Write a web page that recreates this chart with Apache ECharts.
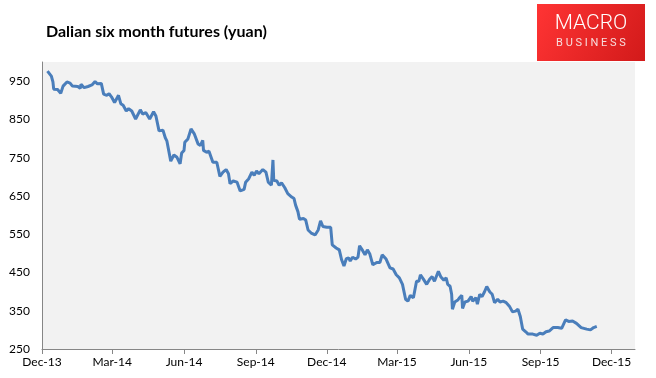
<!DOCTYPE html>
<html>
<head>
<meta charset="utf-8">
<script src="https://cdn.jsdelivr.net/npm/echarts@6/dist/echarts.min.js"></script>
<style>
  html, body { margin: 0; padding: 0; background: #fff; }
  #chart { width: 656px; height: 378px; }
</style>
</head>
<body>
<div id="chart"></div>
<script>
var dates = [
  '2013-12-08','2013-12-10','2013-12-13','2013-12-15','2013-12-16','2013-12-21','2013-12-25','2013-12-28',
  '2014-01-02','2014-01-06','2014-01-09','2014-01-16','2014-01-19','2014-01-20','2014-01-24','2014-01-29',
  '2014-02-03','2014-02-07','2014-02-10','2014-02-15','2014-02-18','2014-02-22','2014-02-25','2014-02-28',
  '2014-03-02','2014-03-04','2014-03-07','2014-03-09','2014-03-12','2014-03-15','2014-03-19','2014-03-22','2014-03-26','2014-03-31',
  '2014-04-06','2014-04-09','2014-04-13','2014-04-18','2014-04-23','2014-04-26','2014-04-30',
  '2014-05-05','2014-05-08','2014-05-10','2014-05-15','2014-05-19','2014-05-23','2014-05-27','2014-05-29',
  '2014-06-01','2014-06-02','2014-06-06','2014-06-10','2014-06-14','2014-06-19','2014-06-22','2014-06-25','2014-06-26','2014-06-30',
  '2014-07-03','2014-07-08','2014-07-13','2014-07-17','2014-07-21','2014-07-25','2014-07-28','2014-07-30',
  '2014-08-03','2014-08-08','2014-08-12','2014-08-17','2014-08-19','2014-08-23','2014-08-27','2014-08-30',
  '2014-09-02','2014-09-05','2014-09-10','2014-09-14','2014-09-17','2014-09-21','2014-09-23','2014-09-24','2014-09-28',
  '2014-10-01','2014-10-04','2014-10-08','2014-10-12','2014-10-17','2014-10-20','2014-10-22','2014-10-25','2014-10-27',
  '2014-11-01','2014-11-04','2014-11-07','2014-11-11','2014-11-16','2014-11-20','2014-11-23','2014-11-26','2014-11-28',
  '2014-12-01','2014-12-06','2014-12-08','2014-12-13','2014-12-17','2014-12-20','2014-12-23','2014-12-26','2014-12-29','2014-12-31',
  '2015-01-03','2015-01-07','2015-01-10','2015-01-12','2015-01-16','2015-01-19','2015-01-22','2015-01-25','2015-01-29',
  '2015-02-03','2015-02-07','2015-02-10','2015-02-15','2015-02-20','2015-02-24','2015-02-28',
  '2015-03-04','2015-03-08','2015-03-12','2015-03-15','2015-03-18','2015-03-22','2015-03-26','2015-03-29','2015-03-31',
  '2015-04-04','2015-04-08','2015-04-12','2015-04-15','2015-04-18','2015-04-23','2015-04-26','2015-04-30',
  '2015-05-03','2015-05-05','2015-05-08','2015-05-10','2015-05-11','2015-05-14','2015-05-18','2015-05-20','2015-05-23','2015-05-24','2015-05-27','2015-05-31',
  '2015-06-04','2015-06-06','2015-06-10','2015-06-12','2015-06-15','2015-06-18','2015-06-21','2015-06-24','2015-06-28',
  '2015-07-01','2015-07-04','2015-07-08','2015-07-11','2015-07-15','2015-07-19','2015-07-23','2015-07-27','2015-07-31',
  '2015-08-03','2015-08-06','2015-08-09','2015-08-13','2015-08-16','2015-08-22','2015-08-27','2015-08-31',
  '2015-09-04','2015-09-08','2015-09-12','2015-09-17','2015-09-23','2015-09-28',
  '2015-10-03','2015-10-07','2015-10-12','2015-10-17','2015-10-23','2015-10-30',
  '2015-11-04','2015-11-08','2015-11-12'
];

var prices = [
  976,974,963,948,929,928,918,937,
  948,945,937,936,931,942,933,936,
  940,949,943,944,916,913,917,909,
  911,894,905,913,891,887,872,878,872,851,
  875,864,868,851,870,859,820,
  822,802,794,741,757,751,734,762,
  769,790,799,825,813,786,782,795,769,764,
  767,738,738,701,712,719,708,682,
  689,686,663,667,686,695,712,704,
  715,708,719,712,686,678,744,691,689,
  678,684,672,656,647,643,626,609,589,
  591,587,561,553,548,561,585,570,574,
  568,568,522,514,509,483,467,486,488,480,
  490,485,490,520,507,496,509,499,470,
  476,476,496,485,462,459,444,
  436,419,380,375,390,384,427,427,444,
  432,419,433,439,427,453,439,430,
  436,419,414,393,354,373,378,384,390,356,373,375,
  387,375,384,367,393,387,399,413,399,
  393,371,380,373,375,371,362,347,349,
  354,335,302,295,289,289,286,291,
  289,295,297,306,306,304,
  326,322,323,317,306,302,
  300,306,309
];

var tickDates = ['2013-12-01','2014-03-01','2014-06-01','2014-09-01','2014-12-01',
                 '2015-03-01','2015-06-01','2015-09-01','2015-12-01'];
var tickLabels = ['Dec-13','Mar-14','Jun-14','Sep-14','Dec-14','Mar-15','Jun-15','Sep-15','Dec-15'];

// dates -> day numbers, so the x axis can be a plain value axis
function toDay(s) {
  var p = s.split('-');
  return Math.round(Date.UTC(+p[0], +p[1] - 1, +p[2]) / 86400000);
}

var tickDays = tickDates.map(toDay);
var seriesData = dates.map(function (d, i) { return [toDay(d), prices[i]]; });

var myChart = echarts.init(document.getElementById('chart'));
myChart.setOption({
  animation: false,
  backgroundColor: '#fff',
  textStyle: { fontFamily: 'Lato' },
  title: {
    text: 'Dalian six month futures (yuan)',
    left: 41,
    top: 19,
    textStyle: { fontFamily: 'Lato', fontWeight: 'bold', fontSize: 16, color: '#000' }
  },
  graphic: [
    {
      type: 'rect',
      shape: { x: 537, y: 4, width: 108, height: 57 },
      style: {
        fill: new echarts.graphic.LinearGradient(0, 0, 1, 1, [
          { offset: 0, color: '#ff3434' },
          { offset: 1, color: '#d21a1a' }
        ])
      }
    },
    {
      type: 'text',
      x: 591, y: 24,
      style: {
        text: 'MACRO', fill: '#fff', font: '300 21px Roboto',
        align: 'center', verticalAlign: 'middle'
      }
    },
    {
      type: 'text',
      x: 591, y: 43,
      style: {
        text: 'B U S I N E S S', fill: '#f6dede', font: '11px Roboto',
        align: 'center', verticalAlign: 'middle'
      }
    }
  ],
  grid: {
    left: 42, right: 21, top: 62, bottom: 29,
    show: true, backgroundColor: '#f2f2f2', borderWidth: 0
  },
  xAxis: {
    type: 'value',
    min: toDay('2013-12-01'),
    max: toDay('2015-12-31'),
    splitLine: { show: false },
    axisLine: { lineStyle: { color: '#868686', width: 1 } },
    axisTick: { show: true, length: 5, customValues: tickDays, lineStyle: { color: '#868686' } },
    axisLabel: {
      customValues: tickDays,
      color: '#000', fontSize: 12, fontFamily: 'Lato', margin: 7,
      formatter: function (val) {
        var i = tickDays.indexOf(val);
        return i >= 0 ? tickLabels[i] : '';
      }
    }
  },
  yAxis: {
    type: 'value',
    min: 250,
    max: 1000,
    interval: 100,
    splitLine: { show: false },
    axisLine: { show: true, lineStyle: { color: '#868686', width: 1 } },
    axisTick: { show: false },
    axisLabel: { color: '#000', fontSize: 12, fontFamily: 'Lato', margin: 12, showMaxLabel: false }
  },
  series: [
    {
      name: 'Dalian six month futures',
      type: 'line',
      data: seriesData,
      showSymbol: false,
      symbol: 'none',
      lineStyle: { color: '#4a7ebb', width: 3 },
      itemStyle: { color: '#4a7ebb' }
    }
  ]
});
</script>
</body>
</html>
